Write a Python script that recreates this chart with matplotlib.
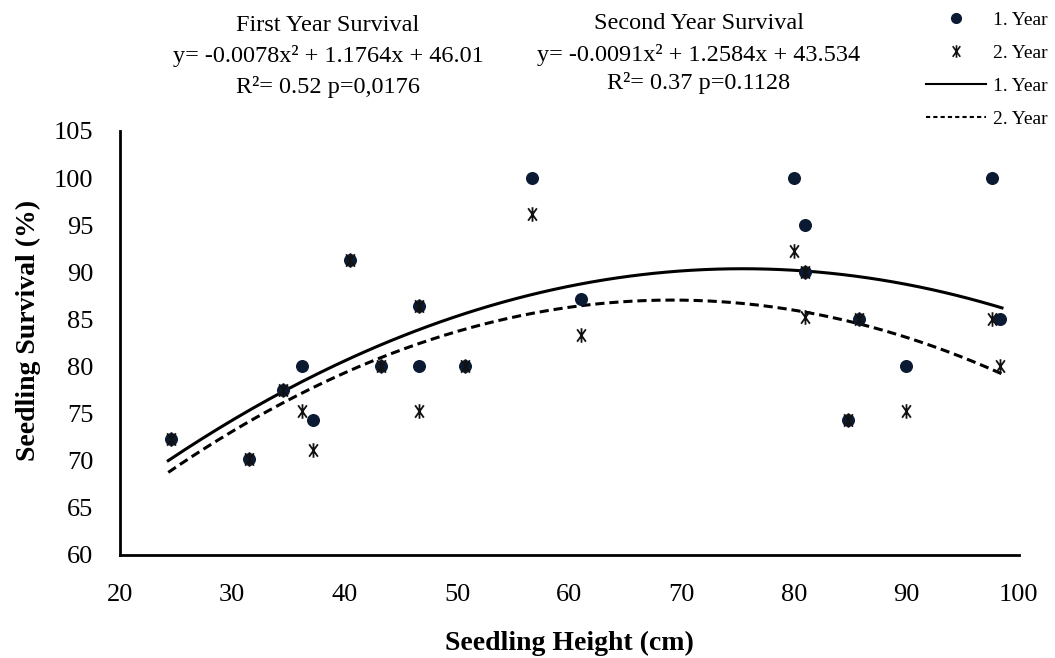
import numpy as np
import matplotlib.pyplot as plt
from matplotlib.path import Path
from matplotlib.lines import Line2D

plt.rcParams['font.family'] = ['Liberation Serif', 'DejaVu Serif']

# seedling height (cm) and survival (%) for both years
height1 = [24.5, 31.5, 34.5, 36.2, 37.2, 40.5, 43.2, 46.6, 46.6, 50.7,
           56.7, 61.0, 80.0, 81.0, 81.0, 84.8, 85.8, 90.0, 97.6, 98.3]
surv1 = [72.3, 70.2, 77.5, 80.0, 74.3, 91.3, 80.0, 86.4, 80.0, 80.0,
         100.0, 87.2, 100.0, 95.0, 90.0, 74.3, 85.0, 80.0, 100.0, 85.0]
height2 = [24.5, 31.5, 34.5, 36.2, 37.2, 40.5, 43.2, 46.6, 46.6, 50.7,
           56.7, 61.0, 80.0, 81.0, 81.0, 84.8, 85.8, 90.0, 97.6, 98.3]
surv2 = [72.3, 70.2, 77.5, 75.3, 71.1, 91.3, 80.0, 86.4, 75.3, 80.0,
         96.2, 83.3, 92.3, 90.0, 85.2, 74.3, 85.0, 75.3, 85.0, 80.0]

# quadratic fits (a, b, c) for y = a x^2 + b x + c
coef1 = [-0.0078, 1.1764, 46.01]
coef2 = [-0.0091, 1.2584, 43.534]
fit_range = [24.3, 98.5]

# asterisk marker: vertical stroke plus a steep X
star = Path([(0, -1), (0, 1), (-0.6, -0.85), (0.6, 0.85), (-0.6, 0.85), (0.6, -0.85)],
            [Path.MOVETO, Path.LINETO, Path.MOVETO, Path.LINETO, Path.MOVETO, Path.LINETO])

fig = plt.figure(figsize=(10.55, 6.58), dpi=100)
ax = fig.add_axes([0.1137, 0.157, 0.852, 0.644])

xs = np.linspace(fit_range[0], fit_range[1], 200)
ax.plot(xs, np.polyval(coef1, xs), color='black', lw=2.2)
ax.plot(xs, np.polyval(coef2, xs), color='black', lw=2.2, ls=(0, (3, 1.6)))

ax.scatter(height1, surv1, s=70, color='#0b1a33', zorder=3)
ax.scatter(height2, surv2, s=110, marker=star, color='#111111', linewidths=1.3, zorder=4)

ax.set_xlim(20, 100)
ax.set_ylim(60, 105)
ax.set_xticks(range(20, 101, 10))
ax.set_yticks(range(60, 106, 5))
ax.tick_params(length=0, labelsize=19)
ax.tick_params(axis='x', pad=21)
ax.tick_params(axis='y', pad=19)
for s in ['top', 'right']:
    ax.spines[s].set_visible(False)
for s in ['left', 'bottom']:
    ax.spines[s].set_linewidth(2)

ax.set_xlabel('Seedling Height (cm)', fontsize=20, fontweight='bold')
ax.set_ylabel('Seedling Survival (%)', fontsize=20, fontweight='bold')
ax.xaxis.set_label_coords(0.5, -0.18)
ax.yaxis.set_label_coords(-0.088, 0.53)

# fit equations above the plot
fig.text(0.311, 0.962, 'First Year Survival', ha='center', va='center', fontsize=17.5)
fig.text(0.311, 0.915, 'y= -0.0078x² + 1.1764x + 46.01', ha='center', va='center', fontsize=17.5)
fig.text(0.311, 0.868, 'R²= 0.52 p=0,0176', ha='center', va='center', fontsize=17.5)
fig.text(0.6625, 0.965, 'Second Year Survival', ha='center', va='center', fontsize=17.5)
fig.text(0.6625, 0.917, 'y= -0.0091x² + 1.2584x + 43.534', ha='center', va='center', fontsize=17.5)
fig.text(0.6625, 0.874, 'R²= 0.37 p=0.1128', ha='center', va='center', fontsize=17.5)

handles = [
    Line2D([], [], ls='none', marker='o', ms=7, color='#0b1a33'),
    Line2D([], [], ls='none', marker=star, ms=9, color='#111111', mew=1.2),
    Line2D([], [], color='black', lw=1.5),
    Line2D([], [], color='black', lw=1.5, ls=(0, (2, 1.5))),
]
fig.legend(handles, ['1. Year', '2. Year', '1. Year', '2. Year'],
           loc='upper right', bbox_to_anchor=(1.01, 1.01), frameon=False,
           fontsize=14, handlelength=3.1, labelspacing=0.8, handletextpad=0.36)

fig.savefig('out.png', dpi=100)
